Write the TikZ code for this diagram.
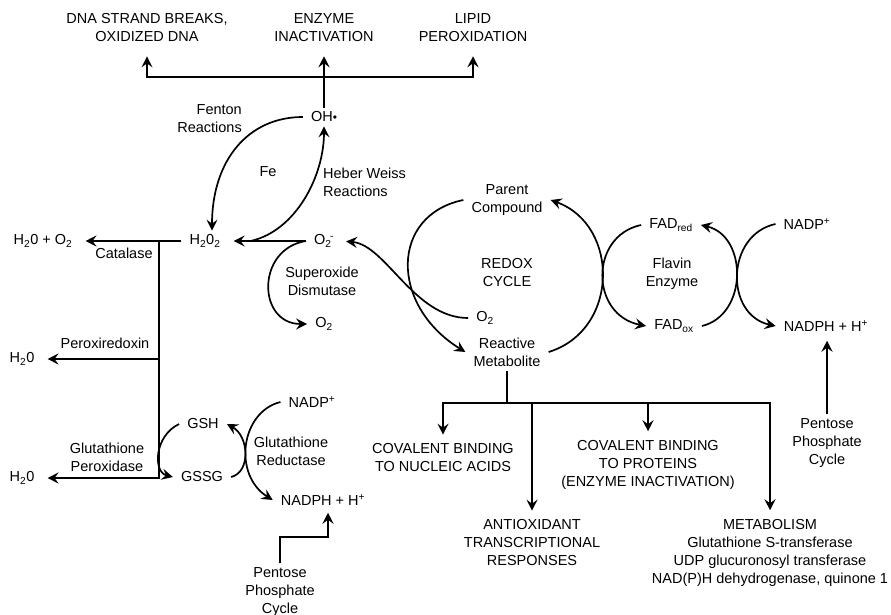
\documentclass[tikz,border=0pt]{standalone}
\usepackage{fontspec}
\setmainfont{Liberation Sans}
\usetikzlibrary{arrows.meta}
\newcommand{\ohdot}{\raisebox{0.5pt}{\fontsize{12}{12}\selectfont\textbullet}}
\newcommand{\plusup}{\textsuperscript{+}}
\tikzset{
    species/.style = {inner xsep=8pt, inner ysep=4pt},
    enzyme-label/.style = {align=center, inner sep=1pt},
    outcome/.style = {align=center, inner sep=4pt},
    path-line/.style = {line width=2pt},
    path-arrow/.style = {line width=2pt, -{Stealth[length=11pt, width=11pt, inset=4pt]}, shorten >=5pt},
    cycle-arrow/.style = {line width=1.7pt, -{Stealth[length=11pt, width=11pt, inset=4pt]}},
}

\begin{document}
\begin{tikzpicture}[x=1pt, y=-1pt, every node/.style={font=\fontsize{14.5}{18}\selectfont}]
\useasboundingbox (0,0) rectangle (891,615);

\node [outcome] (dna) at (147,28) {DNA STRAND BREAKS,\\OXIDIZED DNA};
\node [outcome] (enz) at (324,28) {ENZYME\\INACTIVATION};
\node [outcome] (lipid) at (473,28) {LIPID\\PEROXIDATION};
\coordinate (oh-bar) at (324,77);

\node [species] (oh) at (324,117) {OH\ohdot};
\node [enzyme-label, align=right, anchor=east] (fenton) at (243,119) {Fenton\\Reactions};
\node [enzyme-label] (fe) at (268,172) {Fe};
\node [enzyme-label, align=left, anchor=west] (heber) at (322,182) {Heber Weiss\\Reactions};

\node [species] (hoo) at (205,241) {H\textsubscript{2}0\textsubscript{2}};
\node [species] (sup) at (324,241) {O\textsubscript{2}\kern-1.5pt\textsuperscript{-}};
\node [species] (waterox) at (43,241) {H\textsubscript{2}0 + O\textsubscript{2}};
\node [enzyme-label] (catalase) at (124,253) {Catalase};
\node [enzyme-label] (sod) at (322,281) {Superoxide\\Dismutase};
\node [species] (otwo) at (324,324) {O\textsubscript{2}};
\node [enzyme-label] (perox) at (105,343) {Peroxiredoxin};
\node [species] (water-a) at (22,359) {H\textsubscript{2}0};
\node [species] (water-b) at (22,478) {H\textsubscript{2}0};
\node [enzyme-label] (gpx) at (107,457) {Glutathione\\Peroxidase};

\node [species] (gsh) at (203,424) {GSH};
\node [species] (gssg) at (202,477) {GSSG};
\node [species] (nadp-a) at (312,402) {NADP\plusup};
\node [enzyme-label] (gr) at (291,451) {Glutathione\\Reductase};
\node [species] (nadph-a) at (323,500) {NADPH + H\plusup};
\node [outcome] (ppc-a) at (280,592) {Pentose\\Phosphate\\Cycle};
\coordinate (ppc-a-bend) at (328,537);

\node [species, align=center] (parent) at (507,200) {Parent\\Compound};
\node [enzyme-label] (redox) at (507,273) {REDOX\\CYCLE};
\node [species] (o-in) at (485,318) {O\textsubscript{2}};
\node [species, align=center] (reactive) at (507,352) {Reactive\\Metabolite};
\node [species] (fad-red) at (671,225) {FAD\textsubscript{red}};
\node [enzyme-label] (flavin) at (672,274) {Flavin\\Enzyme};
\node [species] (fad-ox) at (674,326) {FAD\textsubscript{ox}};
\node [species] (nadp-b) at (807,224) {NADP\plusup};
\node [species] (nadph-b) at (826,326) {NADPH + H\plusup};
\node [outcome] (ppc-b) at (827,443) {Pentose\\Phosphate\\Cycle};

\coordinate (rm-split) at (507,403);
\node [outcome] (nucleic) at (443,458) {COVALENT BINDING\\TO NUCLEIC ACIDS};
\node [outcome] (proteins) at (648,465) {COVALENT BINDING\\TO PROTEINS\\(ENZYME INACTIVATION)};
\node [outcome] (antiox) at (532,543) {ANTIOXIDANT\\TRANSCRIPTIONAL\\RESPONSES};
\node [outcome] (metab) at (770,553) {METABOLISM\\Glutathione S-transferase\\UDP glucuronosyl transferase\\NAD(P)H dehydrogenase, quinone 1};

\draw [path-arrow, shorten >=10pt] (oh.north) -- (enz.south);
\draw [path-arrow, shorten >=10pt] (oh-bar) -| (dna.south);
\draw [path-arrow, shorten >=10pt] (oh-bar) -| (lipid.south);

\draw [cycle-arrow] (oh.west) .. controls +(-55,0) and +(0,-70) .. ([xshift=7pt]hoo.north);
\draw [cycle-arrow] ([xshift=22pt]hoo.east) .. controls +(45,-10) and +(0,50) .. (oh.south);
\draw [path-arrow] (sup.west) -- (sup.west -| hoo.east);
\draw [cycle-arrow] (sup.west) .. controls +(-50,8) and +(-50,0) .. (otwo.west);

\coordinate (px-top) at (159,241);
\coordinate (px-mid) at (159,359);
\coordinate (px-bot) at (159,478);
\draw [path-arrow] (hoo.west) -- (hoo.west -| waterox.east);
\draw [path-arrow] (px-top) -- (px-bot) -- (px-bot -| water-b.east);
\draw [path-arrow] (px-mid) -- (px-mid -| water-a.east);

\draw [cycle-arrow] (gsh.west) .. controls +(-25,12) and +(-20,-5) .. (gssg.west);
\draw [cycle-arrow] (gssg.east) .. controls +(20,-5) and +(22,12) .. (gsh.east);
\draw [cycle-arrow] (nadp-a.west) .. controls +(-40,10) and +(-40,-25) .. (nadph-a.west);
\draw [path-arrow, shorten >=3pt] (ppc-a.north) |- (ppc-a-bend) -- (ppc-a-bend |- nadph-a.south);

\draw [cycle-arrow] (parent.west) .. controls +(-73,15) and +(-76,-47) .. (reactive.west);
\draw [cycle-arrow, shorten >=4pt] (o-in.west) .. controls +(-54,0) and +(44,4) .. (sup.east);
\draw [cycle-arrow] (reactive.east) .. controls +(71,-22) and +(69,25) .. (parent.east);
\draw [cycle-arrow] (fad-red.west) .. controls +(-52,11) and +(-56,-11) .. (fad-ox.west);
\draw [cycle-arrow] (fad-ox.east) .. controls +(46,-11) and +(47,11) .. (fad-red.east);
\draw [cycle-arrow] (nadp-b.west) .. controls +(-50,11) and +(-51,-11) .. (nadph-b.west);
\draw [path-arrow] (ppc-b.north) -- (ppc-b.north |- nadph-b.south);

\draw [path-line] (reactive.south) -- (rm-split);
\draw [path-arrow] (rm-split) -| (nucleic.north);
\draw [path-arrow] (rm-split) -| (metab.north);
\draw [path-arrow] (rm-split -| antiox.north) -- (antiox.north);
\draw [path-arrow] (rm-split -| proteins.north) -- (proteins.north);
\end{tikzpicture}
\end{document}
